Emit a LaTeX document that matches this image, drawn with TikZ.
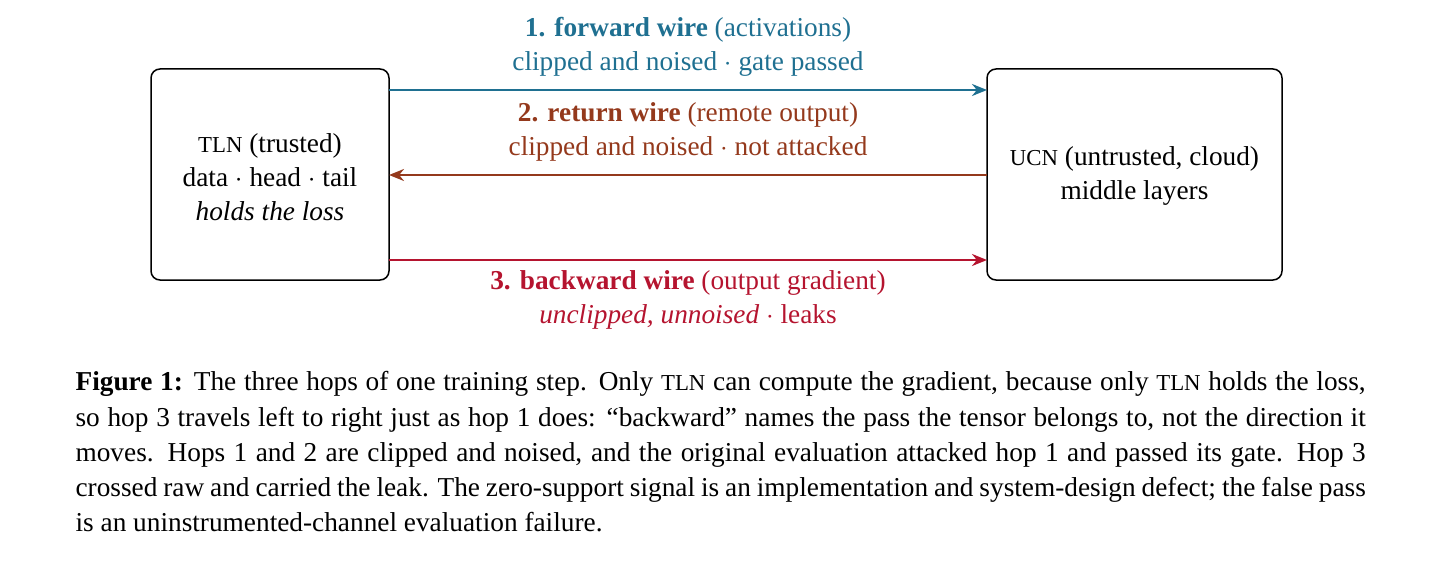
\documentclass[tikz,border=0pt]{standalone}
\usepackage{fontspec}
\setmainfont{Liberation Serif}
\usetikzlibrary{arrows.meta}
\definecolor{fw}{HTML}{1F7091}
\definecolor{rw}{HTML}{94391C}
\definecolor{bw}{HTML}{B5142F}
\newcommand{\tsc}[1]{{\fontsize{7.6}{10}\selectfont #1}}
\begin{document}
\begin{tikzpicture}[x=0.3333pt,y=-0.3333pt,
  box/.style={draw,rounded corners=3pt,line width=0.5pt},
  wire/.style={line width=0.8pt,-{Stealth[length=5pt,width=4pt]}},
  lbl/.style={font=\fontsize{9.1}{11.3}\selectfont,align=center,inner sep=0pt}]
\useasboundingbox (0,0) rectangle (1438,561);
\node[box,minimum width=238*0.3333pt,minimum height=211*0.3333pt] (tln) at (270,174.5) {};
\node[box,minimum width=295*0.3333pt,minimum height=211*0.3333pt] (ucn) at (1134.5,174.5) {};
\node[lbl,align=center] (tt) at (270,177) {\tsc{TLN} (trusted)\\data $\cdot$ head $\cdot$ tail\\\textit{holds the loss}};
\node[lbl,align=center] (ut) at (1134.5,176) {\tsc{UCN} (untrusted, cloud)\\middle layers};
\coordinate (a1) at (389,90); \coordinate (b1) at (987,90);
\coordinate (a2) at (987,175); \coordinate (b2) at (389,175);
\coordinate (a3) at (389,260); \coordinate (b3) at (987,260);
\draw[wire,fw] (a1) -- (b1);
\draw[wire,rw] (a2) -- (b2);
\draw[wire,bw] (a3) -- (b3);
\node[lbl,text=fw] (l1) at (688,47) {\textbf{1. forward wire} (activations)\\clipped and noised $\cdot$ gate passed};
\node[lbl,text=rw] (l2) at (688,132) {\textbf{2. return wire} (remote output)\\clipped and noised $\cdot$ not attacked};
\node[lbl,text=bw] (l3) at (688,300) {\textbf{3. backward wire} (output gradient)\\\textit{unclipped, unnoised} $\cdot$ leaks};
\node[anchor=north west,inner sep=0pt,text width=430pt,font=\fontsize{9.1}{11.75}\selectfont,align=justify] (cap) at (75,371) {\textbf{Figure 1:} The three hops of one training step. Only \tsc{TLN} can compute the gradient, because only \tsc{TLN} holds the loss, so hop 3 travels left to right just as hop 1 does: “backward” names the pass the tensor belongs to, not the direction it moves. Hops 1 and 2 are clipped and noised, and the original evaluation attacked hop 1 and passed its gate. Hop 3 crossed raw and carried the leak. The zero-support signal is an implementation and system-design defect; the false pass is an uninstrumented-channel evaluation failure.};
\end{tikzpicture}
\end{document}
